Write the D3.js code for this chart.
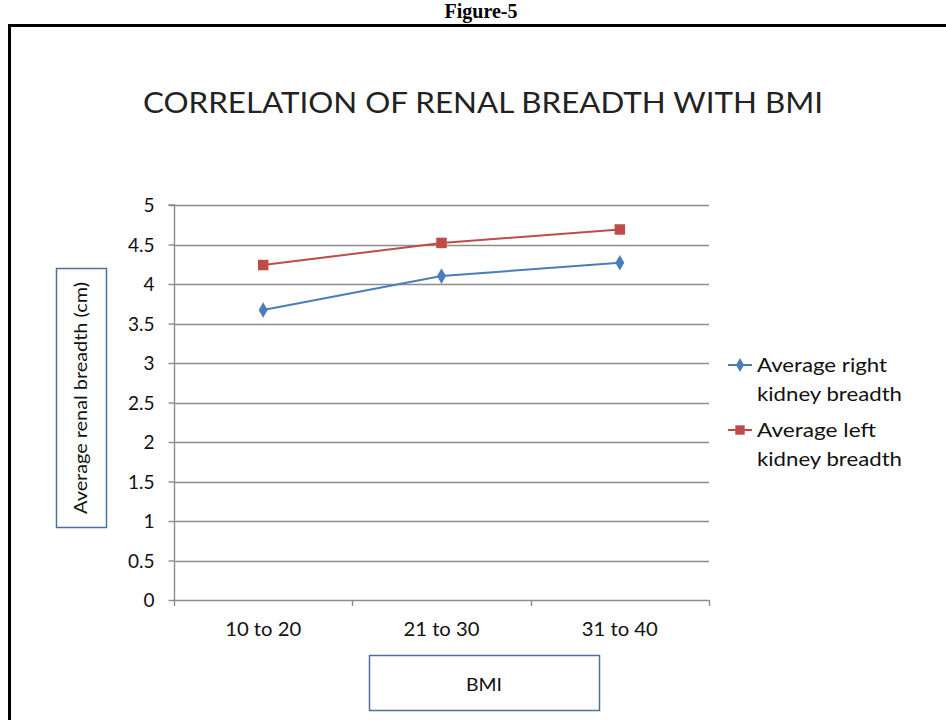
<!DOCTYPE html>
<html><head><meta charset="utf-8">
<script src="https://cdn.jsdelivr.net/npm/d3@7"></script>
<style>body{margin:0;background:#fff}svg{display:block}</style>
</head><body>
<svg id="c" width="946" height="720"></svg>
<script>
const categories = ["10 to 20", "21 to 30", "31 to 40"];
const rightKidney = [3.67, 4.10, 4.27];
const leftKidney = [4.24, 4.52, 4.69];
const yTicks = [0, 0.5, 1, 1.5, 2, 2.5, 3, 3.5, 4, 4.5, 5];
const seriesNames = ["Average right kidney breadth", "Average left kidney breadth"];

const svg = d3.select("#c");
const font = "Lato, 'Open Sans', sans-serif";

// figure caption and frame
svg.append("text").attr("x", 481).attr("y", 18).attr("text-anchor", "middle")
  .attr("font-family", "'Liberation Serif', serif").attr("font-weight", "bold")
  .attr("font-size", 20).text("Figure-5");
svg.append("path").attr("d", "M9.5,730 V25.5 H960").attr("fill", "none")
  .attr("stroke", "#000").attr("stroke-width", 3);

// title
svg.append("text").attr("x", 483).attr("y", 113).attr("text-anchor", "middle")
  .attr("font-family", font).attr("font-size", 29).attr("fill", "#222")
  .attr("textLength", 680).attr("lengthAdjust", "spacingAndGlyphs")
  .text("CORRELATION OF RENAL BREADTH WITH BMI");

const x0 = 174, x1 = 709, yTop = 205, yBot = 600;
const x = d3.scaleBand().domain(categories).range([x0, x1]);
const y = d3.scaleLinear().domain([0, 5]).range([yBot, yTop]);

// gridlines
svg.append("g").selectAll("line").data(yTicks.slice(1)).join("line")
  .attr("x1", x0).attr("x2", x1)
  .attr("y1", d => Math.round(y(d)) + 0.5).attr("y2", d => Math.round(y(d)) + 0.5)
  .attr("stroke", "#8c8c8c").attr("stroke-width", 1.4);

// y axis
const ya = svg.append("g").attr("transform", `translate(${x0 + 0.5},0)`)
  .call(d3.axisLeft(y).tickValues(yTicks).tickSize(6).tickPadding(14).tickFormat(d3.format("")));
ya.select(".domain").attr("stroke", "#8c8c8c").attr("stroke-width", 1.4).attr("d", `M-6,${yTop}H0V${yBot}`);
ya.selectAll(".tick line").attr("stroke", "#8c8c8c").attr("stroke-width", 1.4);
ya.selectAll("text").attr("font-family", font).attr("font-size", 19).attr("fill", "#111").attr("dy", "0.35em");

// x axis
const xa = svg.append("g").attr("transform", `translate(0,${yBot + 0.5})`)
  .call(d3.axisBottom(x).tickSize(0).tickPadding(22));
xa.select(".domain").attr("stroke", "#8c8c8c").attr("stroke-width", 1.4).attr("d", `M${x0},0H${x1}`);
xa.selectAll("text").attr("font-family", font).attr("font-size", 19).attr("fill", "#111")
  .attr("textLength", 76).attr("lengthAdjust", "spacingAndGlyphs");
const bounds = [x0].concat(categories.map(c => x(c) + x.bandwidth()));
svg.append("g").selectAll("line").data(bounds).join("line")
  .attr("x1", d => Math.round(d) + 0.5).attr("x2", d => Math.round(d) + 0.5)
  .attr("y1", yBot).attr("y2", yBot + 6).attr("stroke", "#8c8c8c").attr("stroke-width", 1.4);

const cx = c => x(c) + x.bandwidth() / 2;
const line = d3.line().x((d, i) => cx(categories[i])).y(d => y(d));

const series = [
  {vals: rightKidney, color: "#4a7ebb", sym: d3.symbolDiamond, size: 70},
  {vals: leftKidney, color: "#be4b48", sym: d3.symbolSquare, size: 110}
];
series.forEach(s => {
  svg.append("path").attr("d", line(s.vals)).attr("fill", "none")
    .attr("stroke", s.color).attr("stroke-width", 2);
  svg.append("g").selectAll("path").data(s.vals).join("path")
    .attr("transform", (d, i) => `translate(${cx(categories[i])},${y(d)})`)
    .attr("d", d3.symbol().type(s.sym).size(s.size)).attr("fill", s.color);
});

// legend
const legY = [365, 430];
const legLens = [[130, 145], [119, 145]];
series.forEach((s, i) => {
  const g = svg.append("g").attr("transform", `translate(728,${legY[i]})`);
  g.append("line").attr("x1", 0).attr("x2", 24).attr("y1", 0).attr("y2", 0)
    .attr("stroke", s.color).attr("stroke-width", 2);
  g.append("path").attr("transform", "translate(12,0)")
    .attr("d", d3.symbol().type(s.sym).size(s.size * 0.8)).attr("fill", s.color);
  const words = seriesNames[i].split(" ");
  const lines = [words.slice(0, 2).join(" "), words.slice(2).join(" ")];
  lines.forEach((ln, j) => {
    g.append("text").attr("x", 29).attr("y", 7 + j * 29).attr("font-family", font)
      .attr("font-size", 19).attr("fill", "#111")
      .attr("textLength", legLens[i][j]).attr("lengthAdjust", "spacingAndGlyphs").text(ln);
  });
});

// y-axis title box
svg.append("rect").attr("x", 56.5).attr("y", 268.5).attr("width", 50).attr("height", 259)
  .attr("fill", "#fff").attr("stroke", "#4f6f9c").attr("stroke-width", 1.5);
svg.append("text").attr("transform", "translate(87,398) rotate(-90)").attr("text-anchor", "middle")
  .attr("font-family", font).attr("font-size", 17).attr("fill", "#111")
  .attr("textLength", 232).attr("lengthAdjust", "spacingAndGlyphs")
  .text("Average renal breadth (cm)");

// x-axis title box
svg.append("rect").attr("x", 369.5).attr("y", 655.5).attr("width", 230).attr("height", 55)
  .attr("fill", "#fff").attr("stroke", "#4f6f9c").attr("stroke-width", 1.5);
svg.append("text").attr("x", 484).attr("y", 691).attr("text-anchor", "middle")
  .attr("font-family", font).attr("font-size", 17).attr("fill", "#111")
  .attr("textLength", 36).attr("lengthAdjust", "spacingAndGlyphs").text("BMI");
</script>
</body></html>
